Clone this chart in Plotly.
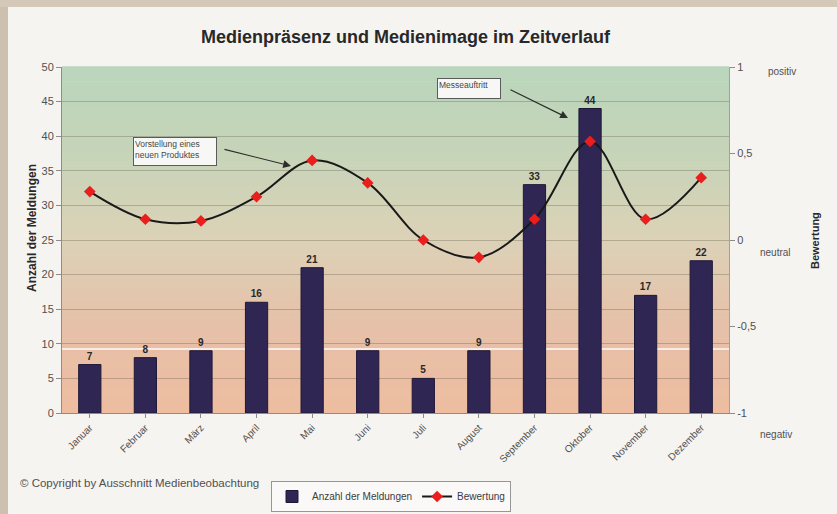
import plotly.graph_objects as go

months = ["Januar", "Februar", "März", "April", "Mai", "Juni", "Juli",
          "August", "September", "Oktober", "November", "Dezember"]
meldungen = [7, 8, 9, 16, 21, 9, 5, 9, 33, 44, 17, 22]
bewertung = [0.28, 0.12, 0.11, 0.25, 0.46, 0.33, 0.0, -0.10, 0.12, 0.57, 0.12, 0.36]

left_ticks = [0, 5, 10, 15, 20, 25, 30, 35, 40, 45, 50]
right_ticks = [-1, -0.5, 0, 0.5, 1]
right_ticktext = ["-1", "-0,5", "0", "0,5", "1"]

W, H = 837, 514
L, R, T, B = 62, 108, 67, 101
PW, PH = W - L - R, H - T - B

def px(x):
    return (x - L) / PW

def py(y):
    return (H - B - y) / PH

fig = go.Figure()

fig.add_trace(go.Bar(
    x=months, y=meldungen, name="Anzahl der Meldungen",
    marker=dict(color="rgb(48,38,84)", line=dict(color="rgb(30,24,55)", width=1)),
    width=0.4,
    texttemplate="<b>%{y}</b>", textposition="outside",
    textfont=dict(family="Liberation Sans, Arial", size=10, color="rgb(40,40,40)"),
    cliponaxis=False,
))

fig.add_trace(go.Scatter(
    x=months, y=bewertung, name="Bewertung", yaxis="y2",
    mode="lines+markers",
    line=dict(color="rgb(25,25,25)", width=2, shape="spline", smoothing=1.0),
    marker=dict(symbol="diamond", size=9, color="rgb(235,30,30)",
                line=dict(width=0)),
))

# gradient background strips
stops = [(0.0, (238, 189, 160)), (0.25, (230, 192, 168)), (0.5, (220, 210, 183)),
         (0.75, (198, 212, 184)), (1.0, (186, 214, 188))]

def col_at(t):
    for (t0, c0), (t1, c1) in zip(stops[:-1], stops[1:]):
        if t0 <= t <= t1:
            f = (t - t0) / (t1 - t0)
            return tuple(round(c0[i] + (c1[i] - c0[i]) * f) for i in range(3))
    return stops[-1][1]

shapes = []
N = 70
for i in range(N):
    t0, t1 = i / N, (i + 1) / N
    c = col_at((t0 + t1) / 2)
    shapes.append(dict(type="rect", xref="paper", yref="paper", x0=0, x1=1,
                       y0=t0, y1=t1 + 0.002, fillcolor="rgb(%d,%d,%d)" % c,
                       line=dict(width=0), layer="below"))
# scan streak
shapes.append(dict(type="line", xref="paper", yref="paper", x0=0, x1=1,
                   y0=py(349), y1=py(349), line=dict(color="rgba(255,255,255,0.7)", width=2),
                   layer="below"))
# photo frame borders
shapes.append(dict(type="rect", xref="paper", yref="paper", x0=px(0), x1=px(8),
                   y0=py(H), y1=py(0), fillcolor="rgb(205,192,175)", line=dict(width=0),
                   layer="below"))
shapes.append(dict(type="rect", xref="paper", yref="paper", x0=px(0), x1=px(W),
                   y0=py(7), y1=py(0), fillcolor="rgb(212,200,185)", line=dict(width=0),
                   layer="below"))

font_main = "Liberation Sans, Arial"
ann = []
ann.append(dict(text="<b>Medienpräsenz und Medienimage im Zeitverlauf</b>",
                xref="paper", yref="paper", x=px(406), y=py(37), showarrow=False,
                font=dict(family=font_main, size=18, color="rgb(40,40,40)"),
                xanchor="center", yanchor="middle"))
ann.append(dict(text="<b>Anzahl der Meldungen</b>", xref="paper", yref="paper",
                x=px(32), y=py(228), showarrow=False, textangle=-90,
                font=dict(family=font_main, size=12, color="rgb(40,40,40)"),
                xanchor="center", yanchor="middle"))
ann.append(dict(text="<b>Bewertung</b>", xref="paper", yref="paper",
                x=px(815), y=py(241), showarrow=False, textangle=-90,
                font=dict(family=font_main, size=11, color="rgb(40,40,40)"),
                xanchor="center", yanchor="middle"))
for label, yy, xx in [("positiv", 71, 766), ("neutral", 252, 758), ("negativ", 435, 758)]:
    ann.append(dict(text=label, xref="paper", yref="paper", x=px(xx), y=py(yy),
                    showarrow=False, xanchor="left", yanchor="middle",
                    font=dict(family=font_main, size=10, color="rgb(80,80,80)")))
ann.append(dict(text="© Copyright by Ausschnitt Medienbeobachtung", xref="paper", yref="paper",
                x=px(18), y=py(483), showarrow=False, xanchor="left", yanchor="middle",
                font=dict(family=font_main, size=11.5, color="rgb(80,80,80)")))
# callout boxes
ann.append(dict(text="Vorstellung eines<br>neuen Produktes", xref="paper", yref="paper",
                x=px(133), y=py(137), showarrow=False, xanchor="left", yanchor="top",
                align="left", valign="top", width=80, height=25,
                bgcolor="rgba(250,250,248,0.95)", bordercolor="rgb(90,90,90)",
                borderwidth=1, borderpad=1,
                font=dict(family=font_main, size=8.5, color="rgb(70,70,70)")))
ann.append(dict(text="Messeauftritt", xref="paper", yref="paper",
                x=px(437), y=py(78), showarrow=False, xanchor="left", yanchor="top",
                align="left", valign="top", width=60, height=17,
                bgcolor="rgba(250,250,248,0.95)", bordercolor="rgb(90,90,90)",
                borderwidth=1, borderpad=1,
                font=dict(family=font_main, size=8.5, color="rgb(70,70,70)")))
# arrows
for (x0, y0), (x1, y1) in [((223, 149), (291, 166)), ((509, 89), (568, 118))]:
    ann.append(dict(text="", xref="paper", yref="paper", x=px(x1), y=py(y1),
                    ax=x0 - x1, ay=y0 - y1, axref="pixel", ayref="pixel",
                    showarrow=True, arrowhead=2, arrowsize=1.3, arrowwidth=1.2,
                    arrowcolor="rgb(45,45,45)", standoff=0, startstandoff=0))

fig.update_layout(
    width=W, height=H,
    margin=dict(l=L, r=R, t=T, b=B, autoexpand=False),
    paper_bgcolor="rgb(246,244,241)",
    plot_bgcolor="rgba(0,0,0,0)",
    font=dict(family=font_main, size=11, color="rgb(80,80,80)"),
    showlegend=True,
    legend=dict(orientation="h", x=px(391), y=py(512), xanchor="center", yanchor="bottom",
                bgcolor="rgb(250,249,247)", bordercolor="rgb(150,150,150)", borderwidth=1,
                font=dict(family=font_main, size=10, color="rgb(60,60,60)"),
                tracegroupgap=0, itemwidth=30),
    bargap=0.6,
    xaxis=dict(tickangle=-45, showgrid=False, showline=True, linecolor="rgb(140,140,140)",
               ticks="outside", ticklen=4, tickcolor="rgb(140,140,140)",
               tickfont=dict(family=font_main, size=10, color="rgb(80,80,80)"),
               range=[-0.5, 11.5], fixedrange=True),
    yaxis=dict(range=[0, 50], tickvals=left_ticks, showgrid=True,
               gridcolor="rgba(100,95,80,0.35)", gridwidth=1,
               showline=True, linecolor="rgb(140,140,140)", ticks="outside", ticklen=5,
               tickcolor="rgb(140,140,140)", zeroline=False,
               tickfont=dict(family=font_main, size=11, color="rgb(80,80,80)")),
    yaxis2=dict(range=[-1, 1], overlaying="y", side="right", tickvals=right_ticks,
                ticktext=right_ticktext, showgrid=False, zeroline=False,
                showline=True, linecolor="rgb(160,160,160)", ticks="outside", ticklen=5,
                tickcolor="rgb(140,140,140)",
                tickfont=dict(family=font_main, size=11, color="rgb(80,80,80)")),
    shapes=shapes,
    annotations=ann,
)

fig.write_html("out.html", config={"displayModeBar": False},
               post_script="document.body.style.margin='0';document.body.style.overflow='hidden';")
